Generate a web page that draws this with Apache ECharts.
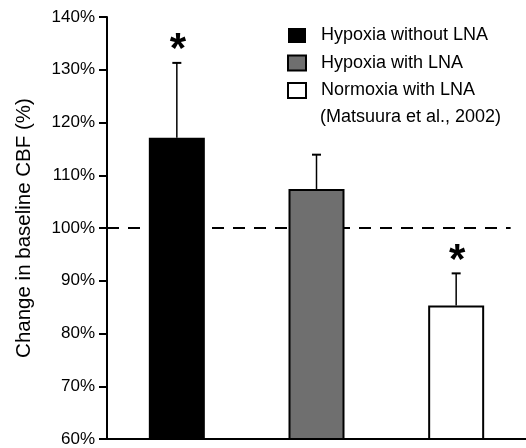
<!DOCTYPE html>
<html>
<head>
<meta charset="utf-8">
<script src="https://cdn.jsdelivr.net/npm/echarts@6/dist/echarts.min.js"></script>
<style>
  html, body { margin: 0; padding: 0; background: #fff; }
  #chart { width: 526px; height: 448px; }
</style>
</head>
<body>
<div id="chart"></div>
<script>
// values (% of baseline CBF)
const categories = ['Hypoxia without LNA', 'Hypoxia with LNA', 'Normoxia with LNA'];
const means = [117.1, 107.4, 85.3];
const upperErr = [131.3, 113.9, 91.4];
const significant = [true, false, true];
const baseline = 100;
const yTicks = { min: 60, max: 140, step: 10 };

const font = 'Liberation Sans, Arial, Helvetica, sans-serif';
const chart = echarts.init(document.getElementById('chart'));

// one bar series per group so the legend shows each fill
function onlyAt(i) {
  return means.map((v, j) => (j === i ? v : '-'));
}

const barStyles = [
  { color: '#000' },
  { color: '#6f6f6f', borderColor: '#000', borderWidth: 2 },
  { color: '#fff', borderColor: '#000', borderWidth: 2 }
];

const barSeries = categories.map((name, i) => ({
  name: name,
  type: 'bar',
  data: onlyAt(i),
  barWidth: 56,
  barGap: '-100%',
  itemStyle: barStyles[i],
  z: 3
}));

const option = {
  animation: false,
  grid: { left: 107, right: 0, top: 17, bottom: 9 },
  legend: {
    orient: 'vertical',
    left: 287,
    top: 26.5,
    padding: 0,
    itemWidth: 18,
    itemHeight: 15,
    itemGap: 9.5,
    selectedMode: false,
    icon: 'rect',
    textStyle: { fontFamily: font, fontSize: 18, lineHeight: 18, color: '#000', padding: [0, 0, 0, 10] },
    data: categories
  },
  graphic: [{
    type: 'text',
    left: 320,
    top: 108,
    style: { text: '(Matsuura et al., 2002)', font: '18px ' + font, fill: '#000' }
  }],
  xAxis: {
    type: 'category',
    data: categories,
    axisLabel: { show: false },
    axisLine: { lineStyle: { color: '#000', width: 2 } },
    axisTick: { length: 8, lineStyle: { color: '#000', width: 2 } },
    splitLine: { show: false }
  },
  yAxis: {
    type: 'value',
    min: yTicks.min,
    max: yTicks.max,
    interval: yTicks.step,
    name: 'Change in baseline CBF (%)',
    nameLocation: 'middle',
    nameRotate: 90,
    nameGap: 72,
    nameTextStyle: { fontFamily: font, fontSize: 20.5, color: '#000' },
    axisLabel: { formatter: '{value}%', fontFamily: font, fontSize: 17, color: '#000', margin: 12 },
    axisLine: { show: true, lineStyle: { color: '#000', width: 2 } },
    axisTick: { show: true, length: 8, lineStyle: { color: '#000', width: 2 } },
    splitLine: { show: false }
  },
  series: [
    {
      // dashed 100% reference line, behind the bars
      type: 'custom',
      data: [[0, baseline]],
      z: 1,
      silent: true,
      renderItem: function (params, api) {
        const cs = params.coordSys;
        const y = api.coord([0, api.value(1)])[1];
        const endX = api.coord([2, baseline])[0] + api.size([1, 0])[0] * 0.39;
        return {
          type: 'line',
          shape: { x1: cs.x, y1: y, x2: endX, y2: y },
          style: { stroke: '#000', lineWidth: 2, lineDash: [12, 9] }
        };
      }
    },
    ...barSeries,
    {
      // upper error bars and significance stars
      type: 'custom',
      data: categories.map((c, i) => [i, means[i], upperErr[i], significant[i] ? 1 : 0]),
      z: 4,
      silent: true,
      renderItem: function (params, api) {
        const base = api.coord([api.value(0), api.value(1)]);
        const top = api.coord([api.value(0), api.value(2)]);
        const children = [
          { type: 'line', shape: { x1: base[0], y1: base[1], x2: top[0], y2: top[1] },
            style: { stroke: '#000', lineWidth: 1.5 } },
          { type: 'line', shape: { x1: top[0] - 4.5, y1: top[1], x2: top[0] + 4.5, y2: top[1] },
            style: { stroke: '#000', lineWidth: 2 } }
        ];
        if (api.value(3)) {
          children.push({
            type: 'text',
            x: top[0] + 1,
            y: top[1] - 12,
            style: { text: '*', font: 'bold 42px ' + font, fill: '#000', align: 'center', verticalAlign: 'middle' }
          });
        }
        return { type: 'group', children: children };
      }
    }
  ]
};

chart.setOption(option);
</script>
</body>
</html>
